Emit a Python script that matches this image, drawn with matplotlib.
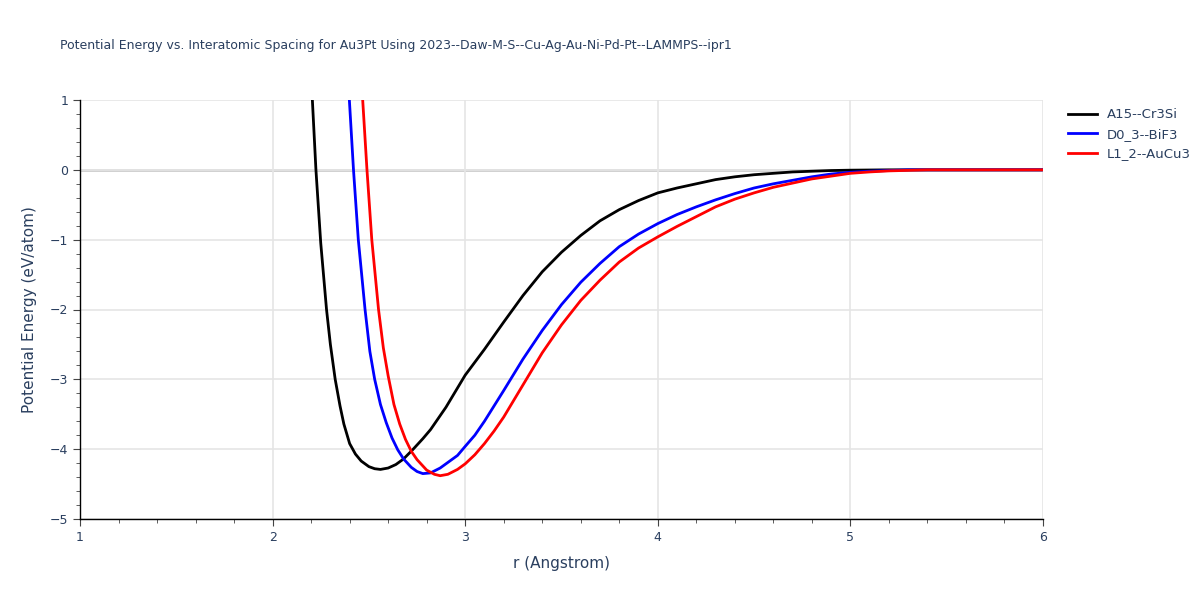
import matplotlib
matplotlib.use("Agg")
import matplotlib.pyplot as plt
from matplotlib.ticker import MultipleLocator

# r (Angstrom) and energy (eV/atom)
r_a15 = [2.20, 2.225, 2.25, 2.28, 2.30, 2.325, 2.35, 2.37, 2.40, 2.43, 2.46, 2.50, 2.53,
         2.56, 2.60, 2.64, 2.68, 2.73, 2.78, 2.82, 2.86, 2.90, 2.95, 3.00, 3.10, 3.20,
         3.30, 3.40, 3.50, 3.60, 3.70, 3.80, 3.90, 4.00, 4.10, 4.20, 4.30, 4.40, 4.50,
         4.60, 4.70, 4.80, 4.90, 5.00, 5.20, 6.00]
e_a15 = [1.35, 0.0, -1.05, -2.0, -2.5, -3.0, -3.38, -3.64, -3.92, -4.07, -4.17, -4.25, -4.28,
         -4.29, -4.27, -4.22, -4.14, -4.00, -3.85, -3.72, -3.56, -3.40, -3.17, -2.94, -2.57, -2.18,
         -1.80, -1.46, -1.18, -0.94, -0.73, -0.57, -0.44, -0.33, -0.26, -0.20, -0.14, -0.10, -0.07,
         -0.05, -0.03, -0.02, -0.01, -0.005, 0.0, 0.0]

r_d03 = [2.39, 2.42, 2.445, 2.48, 2.505, 2.53, 2.56, 2.59, 2.62, 2.65, 2.68, 2.72, 2.75,
         2.78, 2.82, 2.87, 2.92, 2.96, 3.00, 3.05, 3.10, 3.15, 3.20, 3.30, 3.40, 3.50,
         3.60, 3.70, 3.80, 3.90, 4.00, 4.10, 4.20, 4.30, 4.40, 4.50, 4.60, 4.70, 4.80,
         4.90, 5.00, 5.10, 5.20, 5.30, 6.00]
e_d03 = [1.4, 0.0, -1.0, -2.0, -2.6, -3.0, -3.36, -3.62, -3.84, -4.01, -4.14, -4.26, -4.32,
         -4.35, -4.34, -4.27, -4.17, -4.09, -3.96, -3.80, -3.60, -3.38, -3.16, -2.71, -2.30, -1.93,
         -1.61, -1.34, -1.10, -0.92, -0.77, -0.64, -0.53, -0.43, -0.34, -0.26, -0.20, -0.15, -0.10,
         -0.06, -0.035, -0.02, -0.01, 0.0, 0.0]

r_l12 = [2.46, 2.49, 2.515, 2.55, 2.575, 2.60, 2.63, 2.66, 2.69, 2.72, 2.75, 2.80, 2.84,
         2.87, 2.91, 2.96, 3.00, 3.05, 3.10, 3.15, 3.20, 3.30, 3.40, 3.50, 3.60, 3.70,
         3.80, 3.90, 4.00, 4.10, 4.20, 4.30, 4.40, 4.50, 4.60, 4.70, 4.80, 4.90, 5.00,
         5.10, 5.20, 5.40, 6.00]
e_l12 = [1.35, 0.0, -1.0, -2.0, -2.55, -2.95, -3.36, -3.64, -3.86, -4.03, -4.15, -4.30, -4.36,
         -4.38, -4.36, -4.29, -4.21, -4.08, -3.92, -3.74, -3.54, -3.08, -2.62, -2.22, -1.87, -1.58,
         -1.32, -1.12, -0.96, -0.81, -0.67, -0.53, -0.42, -0.33, -0.25, -0.19, -0.13, -0.09, -0.05,
         -0.03, -0.015, 0.0, 0.0]

names = ["A15--Cr3Si", "D0_3--BiF3", "L1_2--AuCu3"]
colors = ["black", "blue", "red"]
title = "Potential Energy vs. Interatomic Spacing for Au3Pt Using 2023--Daw-M-S--Cu-Ag-Au-Ni-Pd-Pt--LAMMPS--ipr1"

txt = "#2a3f5f"
plt.rcParams['font.family'] = ['DejaVu Sans']

fig = plt.figure(figsize=(12, 6), dpi=100)
ax = fig.add_axes([80/1200, 1 - 519/600, (1043-80)/1200, (519-100)/600])

for r, e, n, c in zip([r_a15, r_d03, r_l12], [e_a15, e_d03, e_l12], names, colors):
    ax.plot(r, e, color=c, lw=2, label=n, zorder=3)

ax.set_xlim(1, 6)
ax.set_ylim(-5, 1)
ax.xaxis.set_major_locator(MultipleLocator(1))
ax.xaxis.set_minor_locator(MultipleLocator(0.2))
ax.yaxis.set_major_locator(MultipleLocator(1))
ax.yaxis.set_minor_locator(MultipleLocator(0.2))
ax.grid(True, which='major', color='#e5e5e5', lw=1.2, zorder=0)
ax.axhline(0, color='#cccccc', lw=2, zorder=1)
for s in ['top', 'right']:
    ax.spines[s].set_visible(False)
for s in ['left', 'bottom']:
    ax.spines[s].set_color('black')
    ax.spines[s].set_linewidth(1)
ax.tick_params(which='major', direction='out', length=5, color='#444444', labelsize=9, labelcolor=txt)
ax.tick_params(which='minor', direction='out', length=3, color='#444444')

ax.set_xlabel("r (Angstrom)", fontsize=11, color=txt, labelpad=9)
ax.set_ylabel("Potential Energy (eV/atom)", fontsize=11, color=txt, labelpad=9)
fig.text(60/1200, 1 - 45/600, title, fontsize=9, color=txt, va='center', ha='left')

ax.legend(loc='upper left', bbox_to_anchor=(1.02, 0.993), frameon=False, fontsize=9.5,
          labelcolor=txt, handlelength=2.2, borderaxespad=0)

fig.savefig("out.png", dpi=100)
